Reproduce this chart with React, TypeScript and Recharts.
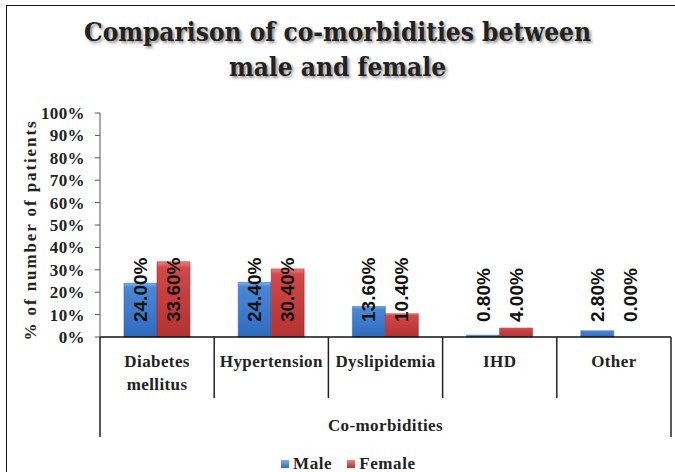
import React from 'react';
import { BarChart, Bar, XAxis, YAxis, LabelList, Text, Cell } from 'recharts';

const CATEGORIES = ['Diabetes mellitus', 'Hypertension', 'Dyslipidemia', 'IHD', 'Other'];
const MALE = [24.0, 24.4, 13.6, 0.8, 2.8];
const FEMALE = [33.6, 30.4, 10.4, 4.0, 0.0];
const Y_TICKS = [0, 10, 20, 30, 40, 50, 60, 70, 80, 90, 100];
const SERIES_NAMES = ['Male', 'Female'];

const data = CATEGORIES.map((name, i) => ({ name, male: MALE[i], female: FEMALE[i] }));

const W = 675;
const H = 472;
const MARGIN = { top: 113, right: 4, left: 0, bottom: 35 };
const Y_AXIS_W = 100;
const BAND = (W - MARGIN.left - MARGIN.right - Y_AXIS_W) / CATEGORIES.length;

const SERIF = '"Liberation Serif", "DejaVu Serif", serif';
const SANS = '"Liberation Sans", Arial, sans-serif';

const CategoryTick = (props: any) => {
  const { x, y, payload, index } = props;
  const half = BAND / 2;
  const last = index === CATEGORIES.length - 1;
  return (
    <g>
      <line x1={x - half} x2={x - half} y1={y} y2={y + (index === 0 ? 100 : 61)} stroke="#222" strokeWidth={1.5} />
      {last && <line x1={x + half} x2={x + half} y1={y} y2={y + 100} stroke="#222" strokeWidth={1.5} />}
      <Text
        x={x}
        y={y + 18}
        width={BAND - 8}
        textAnchor="middle"
        verticalAnchor="start"
        lineHeight={23}
        fontFamily={SERIF}
        fontWeight="bold"
        fontSize={17}
        letterSpacing={0.4}
        fill="#222"
      >
        {payload.value}
      </Text>
    </g>
  );
};

const makeValueLabel = (values: number[]) => (props: any) => {
  const { x, y, width, height, index } = props;
  const cx = Number(x) + Number(width) / 2;
  const by = Number(y) + Number(height) - 15;
  return (
    <text
      x={cx}
      y={by}
      transform={`rotate(-90 ${cx} ${by})`}
      dominantBaseline="central"
      textAnchor="start"
      fontFamily={SANS}
      fontWeight="bold"
      fontSize={19}
      fill="#111"
    >
      {values[index].toFixed(2)}%
    </text>
  );
};

const MaleLabel = makeValueLabel(MALE);
const FemaleLabel = makeValueLabel(FEMALE);

const YLabel = () => (
  <text
    x={30}
    y={230}
    transform="rotate(-90 30 230)"
    textAnchor="middle"
    dominantBaseline="central"
    fontFamily={SERIF}
    fontWeight="bold"
    fontSize={17}
    letterSpacing={1.9}
    fill="#222"
  >
    % of number of patients
  </text>
);

// keeps a zero-height rect so its value label still gets drawn
const tinyIfZero = (value: number) => (value === 0 ? 0.01 : 0);

export default function App() {
  return (
    <div style={{ position: 'absolute', left: 0, top: 0, width: W, height: H, overflow: 'hidden', background: '#fff' }}>
      <div
        style={{
          position: 'absolute',
          left: 6,
          top: 5,
          width: 700,
          height: 490,
          border: '1.5px solid #111',
        }}
      />
      <div
        style={{
          position: 'absolute',
          top: 15,
          left: 0,
          width: W,
          textAlign: 'center',
          fontFamily: '"DejaVu Serif Condensed", "Liberation Serif", serif',
          fontWeight: 'bold',
          fontSize: 26,
          lineHeight: '35px',
          color: '#222',
          textShadow: '2px 2px 3px rgba(0,0,0,0.45)',
        }}
      >
        <div>Comparison of co-morbidities between</div>
        <div>male and female</div>
      </div>
      <BarChart width={W} height={H} data={data} margin={MARGIN} barGap={0} barCategoryGap="21%">
        <defs>
          <linearGradient id="maleGrad" x1="0" y1="0" x2="0" y2="1">
            <stop offset="0%" stopColor="#7eaee8" />
            <stop offset="8%" stopColor="#4a88d6" />
            <stop offset="100%" stopColor="#2f6bbd" />
          </linearGradient>
          <linearGradient id="femaleGrad" x1="0" y1="0" x2="0" y2="1">
            <stop offset="0%" stopColor="#ee8080" />
            <stop offset="8%" stopColor="#d24848" />
            <stop offset="100%" stopColor="#b33232" />
          </linearGradient>
        </defs>
        <XAxis
          dataKey="name"
          interval={0}
          height={100}
          tickSize={0}
          tickMargin={0}
          axisLine={{ stroke: '#111', strokeWidth: 1.5 }}
          tickLine={false}
          tick={<CategoryTick />}
          label={{
            value: 'Co-morbidities',
            position: 'insideBottom',
            offset: 6,
            fontFamily: SERIF,
            fontWeight: 'bold',
            fontSize: 17,
            letterSpacing: 0.4,
            fill: '#222',
          }}
        />
        <YAxis
          width={Y_AXIS_W}
          domain={[0, 100]}
          ticks={Y_TICKS}
          interval={0}
          tickFormatter={(v: number) => `${v}%`}
          tickSize={5}
          tickMargin={10}
          axisLine={{ stroke: '#555', strokeWidth: 1 }}
          tickLine={{ stroke: '#555' }}
          tick={{ fontFamily: SERIF, fontWeight: 'bold', fontSize: 17, letterSpacing: 0.4, fill: '#222' }}
          label={{ content: <YLabel /> }}
        />
        <Bar dataKey="male" name={SERIES_NAMES[0]} fill="url(#maleGrad)" minPointSize={tinyIfZero} isAnimationActive={false}>
          {MALE.map((v, i) => (
            <Cell key={`m-${i}`} stroke={v > 0 ? '#2a5fa8' : 'none'} strokeWidth={0.5} />
          ))}
          <LabelList dataKey="male" content={<MaleLabel />} />
        </Bar>
        <Bar dataKey="female" name={SERIES_NAMES[1]} fill="url(#femaleGrad)" minPointSize={tinyIfZero} isAnimationActive={false}>
          {FEMALE.map((v, i) => (
            <Cell key={`f-${i}`} stroke={v > 0 ? '#9e2a2a' : 'none'} strokeWidth={0.5} />
          ))}
          <LabelList dataKey="female" content={<FemaleLabel />} />
        </Bar>
      </BarChart>
      <div
        style={{
          position: 'absolute',
          top: 454,
          left: 281,
          display: 'flex',
          alignItems: 'center',
          gap: 15,
          fontFamily: SERIF,
          fontWeight: 'bold',
          fontSize: 17,
          letterSpacing: 0.6,
          color: '#222',
        }}
      >
        {SERIES_NAMES.map((n, i) => (
          <span key={n} style={{ display: 'flex', alignItems: 'center', gap: 4 }}>
            <span
              style={{
                display: 'inline-block',
                width: 8,
                height: 8,
                background: i === 0 ? 'linear-gradient(#7eaee8, #2f6bbd)' : 'linear-gradient(#ee8080, #b33232)',
              }}
            />
            {n}
          </span>
        ))}
      </div>
    </div>
  );
}
